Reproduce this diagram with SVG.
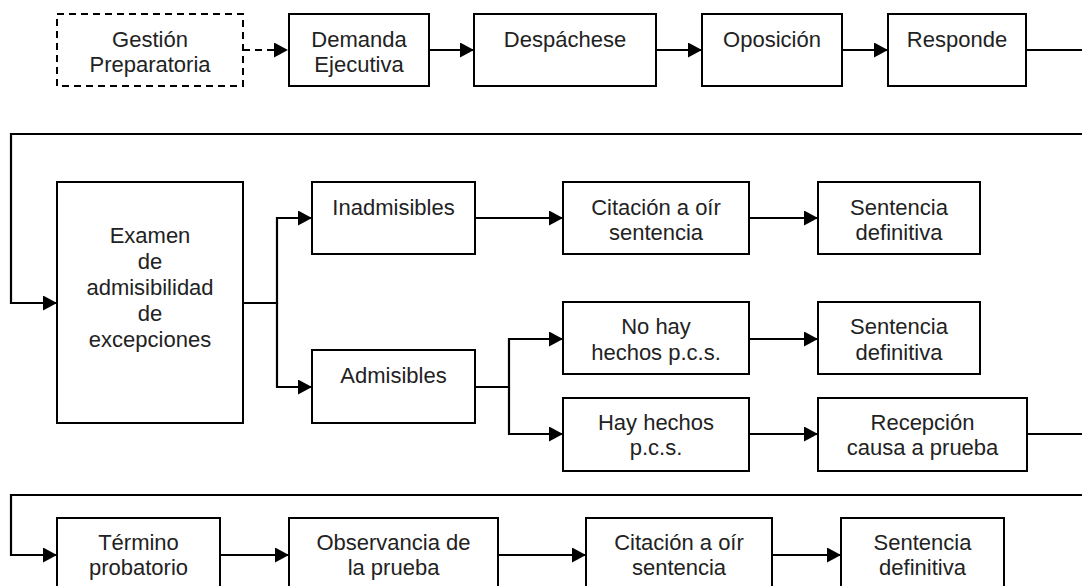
<svg xmlns="http://www.w3.org/2000/svg" width="1082" height="586" viewBox="0 0 1082 586">
<style>
.box{fill:#fff;stroke:#000;stroke-width:2}
.dash{stroke-dasharray:7 5}
.c{fill:none;stroke:#000;stroke-width:2.2}
text{font-family:"Liberation Sans",Arial,sans-serif;font-size:22px;fill:#222;text-anchor:middle}
</style>
<defs>
<marker id="ah" markerUnits="userSpaceOnUse" markerWidth="14" markerHeight="15" refX="14" refY="7.5" orient="auto">
<path d="M0,0 L14,7.5 L0,15 Z" fill="#000"/>
</marker>
</defs>
<rect width="1082" height="586" fill="#fff"/>
<g id="connectors">
<path class="c dash" d="M243,50 H288" marker-end="url(#ah)"/>
<path class="c" d="M429,50 H474" marker-end="url(#ah)"/>
<path class="c" d="M656,50 H702" marker-end="url(#ah)"/>
<path class="c" d="M842,50 H888" marker-end="url(#ah)"/>
<path class="c" d="M1026,50 H1082"/>
<path class="c" d="M1082,134 H11 V303 H57" marker-end="url(#ah)"/>
<path class="c" d="M243,303 H277 V218 H312" marker-end="url(#ah)"/>
<path class="c" d="M277,303 V387 H312" marker-end="url(#ah)"/>
<path class="c" d="M475,218 H563" marker-end="url(#ah)"/>
<path class="c" d="M749,218 H818" marker-end="url(#ah)"/>
<path class="c" d="M475,387 H509 V339 H563" marker-end="url(#ah)"/>
<path class="c" d="M509,387 V434 H563" marker-end="url(#ah)"/>
<path class="c" d="M749,339 H818" marker-end="url(#ah)"/>
<path class="c" d="M749,434 H818" marker-end="url(#ah)"/>
<path class="c" d="M1027,434 H1082"/>
<path class="c" d="M1082,495 H11 V555 H57" marker-end="url(#ah)"/>
<path class="c" d="M220,555 H289" marker-end="url(#ah)"/>
<path class="c" d="M498,555 H586" marker-end="url(#ah)"/>
<path class="c" d="M772,555 H841" marker-end="url(#ah)"/>
</g>
<g id="gestion"><rect class="box dash" x="57" y="14" width="186" height="72"/><text x="150" y="47">Gestión</text><text x="150" y="72">Preparatoria</text></g>
<g id="demanda"><rect class="box" x="289" y="14" width="140" height="72"/><text x="359" y="47">Demanda</text><text x="359" y="72">Ejecutiva</text></g>
<g id="despachese"><rect class="box" x="474" y="14" width="182" height="72"/><text x="565" y="47">Despáchese</text></g>
<g id="oposicion"><rect class="box" x="702" y="14" width="140" height="72"/><text x="772" y="47">Oposición</text></g>
<g id="responde"><rect class="box" x="888" y="14" width="138" height="72"/><text x="957" y="47">Responde</text></g>
<g id="examen"><rect class="box" x="57" y="182" width="186" height="241"/><text x="150" y="243">Examen</text><text x="150" y="269">de</text><text x="150" y="295">admisibilidad</text><text x="150" y="321">de</text><text x="150" y="347">excepciones</text></g>
<g id="inadmisibles"><rect class="box" x="312" y="182" width="163" height="72"/><text x="393.5" y="215">Inadmisibles</text></g>
<g id="admisibles"><rect class="box" x="312" y="350" width="163" height="73"/><text x="393.5" y="383">Admisibles</text></g>
<g id="citacion1"><rect class="box" x="563" y="182" width="186" height="72"/><text x="656" y="215">Citación a oír</text><text x="656" y="240">sentencia</text></g>
<g id="sentencia1"><rect class="box" x="818" y="182" width="162" height="72"/><text x="899" y="215">Sentencia</text><text x="899" y="240">definitiva</text></g>
<g id="nohay"><rect class="box" x="563" y="302" width="186" height="72"/><text x="656" y="334">No hay</text><text x="656" y="360">hechos p.c.s.</text></g>
<g id="sentencia2"><rect class="box" x="818" y="302" width="162" height="72"/><text x="899" y="334">Sentencia</text><text x="899" y="360">definitiva</text></g>
<g id="hayhechos"><rect class="box" x="563" y="398" width="186" height="73"/><text x="656" y="430">Hay hechos</text><text x="656" y="455">p.c.s.</text></g>
<g id="recepcion"><rect class="box" x="818" y="398" width="209" height="73"/><text x="922.5" y="430">Recepción</text><text x="922.5" y="455">causa a prueba</text></g>
<g id="termino"><rect class="box" x="57" y="518" width="163" height="90"/><text x="138.5" y="550">Término</text><text x="138.5" y="575">probatorio</text></g>
<g id="observancia"><rect class="box" x="289" y="518" width="209" height="90"/><text x="393.5" y="550">Observancia de</text><text x="393.5" y="575">la prueba</text></g>
<g id="citacion2"><rect class="box" x="586" y="518" width="186" height="90"/><text x="679" y="550">Citación a oír</text><text x="679" y="575">sentencia</text></g>
<g id="sentencia3"><rect class="box" x="841" y="518" width="163" height="90"/><text x="922.5" y="550">Sentencia</text><text x="922.5" y="575">definitiva</text></g>
</svg>
